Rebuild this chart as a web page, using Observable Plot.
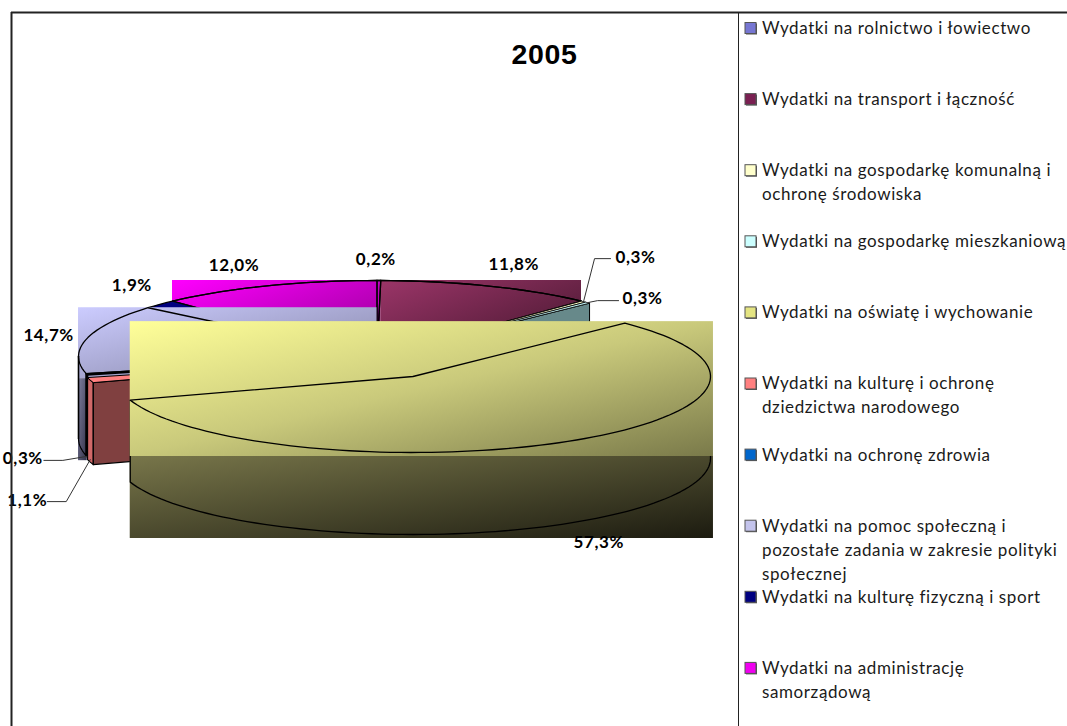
<!DOCTYPE html>
<html lang="pl">
<head>
<meta charset="utf-8">
<style>html,body{margin:0;padding:0;background:#fff;overflow:hidden}</style>
<script src="https://cdn.jsdelivr.net/npm/d3@7"></script>
<script src="https://cdn.jsdelivr.net/npm/@observablehq/plot@0.6"></script>
</head>
<body>
<div id="chart"></div>
<script>
const categories = [
  "Wydatki na rolnictwo i łowiectwo",
  "Wydatki na transport i łączność",
  "Wydatki na gospodarkę komunalną i\nochronę środowiska",
  "Wydatki na gospodarkę mieszkaniową",
  "Wydatki na oświatę i wychowanie",
  "Wydatki na kulturę i ochronę\ndziedzictwa narodowego",
  "Wydatki na ochronę zdrowia",
  "Wydatki na pomoc społeczną i\npozostałe zadania w zakresie polityki\nspołecznej",
  "Wydatki na kulturę fizyczną i sport",
  "Wydatki na administrację\nsamorządową"
];
const shares = [0.2, 11.8, 0.3, 0.3, 57.3, 1.1, 0.3, 14.7, 1.9, 12.0];
const shareLabels = ["0,2%", "11,8%", "0,3%", "0,3%", "57,3%", "1,1%", "0,3%", "14,7%", "1,9%", "12,0%"];
const legendColors = ["#7676d2", "#7a2052", "#ffffcc", "#ccffff", "#e4e482", "#ff8080", "#0066cc", "#c4c4ec", "#000080", "#f000f0"];
const title = "2005";

// layout (not data)
const W = 1067, H = 726;
const pie = {cx: 376.5, cy: 356, rx: 298.5, ry: 76, depth: 82};
const exploded = {...pie, cx: 412.5, cy: 376, rx: 297.5};
const sunk = {...pie, cy: pie.cy + 2.5};
const labelOffset = [[-3,-21],[25,-21],[52,-44],[55,-4],[31,101],[-63,123],[-64,84],[-38,-3],[-28,-19],[-33,-20]];
const leaderOffset = {2: {z: 0, elbow: [-41,1], end: [-25,1]}, 3: {z: 0, elbow: [-45,2], end: [-24,2]},
                      5: {z: 82, elbow: [39,1], end: [20,1]}, 6: {z: 82, elbow: [40,2], end: [21,2]}};
const legend = {top: 28, step: 71.1, swatchX: 745, swatchW: 11, textX: 761.5, lineH: 24};
const frame = {left: 11, top: 12, divider: 738};
const ink = "#000";

const gradients = {
  adminTop: ["#ff00ff", "#8c008c"],
  transportTop: ["#9b3568", "#3d1429"],
  stripTop: ["#d000d0", "#a000a0"],
  pomocTop: ["#ccccff", "#80809f"],
  pomocSide: ["#7f7f9f", "#33334a"],
  eduTop: ["#ffff99", "#c9c97b", "#7a7a4a"],
  eduSide: ["#78764a", "#1c1b10"]
};

// geometry from the shares
const total = d3.sum(shares);
let running = 0;
const slices = shares.map((v, i) => {
  const a0 = running / total * 360;
  running += v;
  return {i, a0, a1: running / total * 360, mid: (a0 + v / total * 180)};
});
const pt = (a, c = pie, z = 0) => {
  const r = a * Math.PI / 180;
  return {x: c.cx + c.rx * Math.sin(r), y: c.cy - c.ry * Math.cos(r) + z};
};
const arc = (a0, a1, c = pie, z = 0) => {
  const n = Math.max(2, Math.ceil(Math.abs(a1 - a0) / 2));
  return d3.range(n + 1).map(k => pt(a0 + (a1 - a0) * k / n, c, z));
};
const centre = (c = pie, z = 0) => ({x: c.cx, y: c.cy + z});
const wedge = (s, c = pie) => [centre(c), ...arc(s.a0, s.a1, c), centre(c)];
const radialWall = (a, c = pie) => [pt(a, c), centre(c), centre(c, c.depth), pt(a, c, c.depth), pt(a, c)];
const outerWall = (a0, a1, c = pie) => [...arc(a0, a1, c), ...arc(a1, a0, c, c.depth), pt(a0, c)];
const bbox = (s, c = pie, pad = {}) => {
  const pts = wedge(s, c);
  const {r = 0, t = 0, b = 4} = pad;
  return {x1: d3.min(pts, d => d.x), x2: d3.max(pts, d => d.x) + r, y1: d3.min(pts, d => d.y) - t, y2: d3.max(pts, d => d.y) + b};
};
const line = (pts, o = {}) => Plot.line(pts, {x: "x", y: "y", stroke: ink, strokeWidth: 1.3, curve: "linear", ...o});
const box = (b, name) => Plot.rect([b], {x1: "x1", x2: "x2", y1: "y1", y2: "y2", fill: `url(#${name})`});

const defs = () => {
  const d = d3.create("svg:defs");
  for (const [id, stops] of Object.entries(gradients)) {
    const g = d.append("linearGradient").attr("id", id).attr("x1", 0).attr("y1", 0).attr("x2", 1).attr("y2", 1);
    stops.forEach((c, k) => g.append("stop").attr("offset", k / (stops.length - 1)).attr("stop-color", c));
  }
  return d.node();
};

const [rol, tra, kom, mie, edu, kul, zdr, pom, spo, adm] = slices;

// back parts
const backMarks = [
  box(bbox(adm), "adminTop"),
  box(bbox(rol), "stripTop"),
  box({...bbox(tra), x1: pt(tra.a0).x}, "transportTop"),
  line(arc(adm.a0, adm.a1)),
  line(arc(rol.a0, rol.a1)),
  line(arc(tra.a0, tra.a1)),
  line(wedge(adm), {fill: "none"}),
  line(wedge(rol), {fill: "none"}),
  line(wedge(tra), {fill: "none"}),
  line(wedge(spo), {fill: "#000080"}),
  line(radialWall(mie.a1), {fill: "#67898a", strokeWidth: 1}),
  line(wedge(kom), {fill: "#ffffcc", strokeWidth: 0.8}),
  line(wedge(mie), {fill: "#ccffff", strokeWidth: 0.8})
];

// left parts
const pb = bbox(pom, pie, {b: 5});
const pomocFrontEnd = pt(pom.a0).x;
const leftMarks = [
  box(pb, "pomocTop"),
  box({x1: pb.x1, x2: pomocFrontEnd + 1, y1: pb.y2, y2: pb.y2 + pie.depth}, "pomocSide"),
  line([...arc(270, pom.a0, pie, pie.depth), pt(pom.a0)], {strokeWidth: 1.2}),
  line([pt(270), pt(270, pie, pie.depth)], {strokeWidth: 1.6}),
  line(wedge(pom), {fill: "none"}),
  line(outerWall(zdr.a0, zdr.a1), {fill: "#003366", strokeWidth: 1.6}),
  line(wedge(zdr), {fill: "#0066cc", strokeWidth: 1.6}),
  line(outerWall(kul.a0, kul.a1, sunk), {fill: "#d06868", strokeWidth: 1.2}),
  line(radialWall(kul.a0, sunk), {fill: "#804040", strokeWidth: 1.3}),
  line(wedge(kul, sunk), {fill: "#ff8080", strokeWidth: 1})
];

// exploded slice
const eb = bbox(edu, exploded, {r: 3, t: 1.5});
const eduMarks = [
  box({x1: eb.x1, x2: eb.x2, y1: eb.y2, y2: eb.y2 + pie.depth}, "eduSide"),
  line([pt(edu.a1, exploded), ...arc(edu.a1, 90, exploded, pie.depth), pt(90, exploded)]),
  box(eb, "eduTop"),
  line(wedge(edu, exploded), {fill: "none"})
];

// data labels and leaders
const labels = slices.map(s => {
  const rim = pt(s.mid, s.i === 4 ? exploded : pie);
  return {text: shareLabels[s.i], x: rim.x + labelOffset[s.i][0], y: rim.y + labelOffset[s.i][1], rim};
});
const leaders = Object.entries(leaderOffset).map(([i, o]) => {
  const l = labels[i];
  return [{x: l.rim.x, y: l.rim.y + o.z}, {x: l.x + o.elbow[0], y: l.y + o.elbow[1]}, {x: l.x + o.end[0], y: l.y + o.end[1]}];
});

// legend
const legendRows = categories.map((c, i) => ({c, y: legend.top + i * legend.step, color: legendColors[i]}));
const legendLines = legendRows.flatMap(r => r.c.split("\n").map((t, k) => ({t, y: r.y + k * legend.lineH})));

const plot = Plot.plot({
  width: W, height: H,
  margin: 0,
  x: {domain: [0, W], range: [0, W], axis: null},
  y: {domain: [0, H], range: [0, H], axis: null},
  style: {background: "#fff", letterSpacing: "0.6px"},
  marks: [
    defs,
    ...backMarks,
    ...leftMarks,
    ...eduMarks,
    ...leaders.map(l => line(l, {stroke: "#333", strokeWidth: 1})),
    Plot.text(labels, {x: "x", y: "y", text: "text", fontFamily: "Lato", fontWeight: 700, fontSize: 17, fill: "#000"}),
    Plot.text([title], {x: [544], y: [54], text: d => d, fontFamily: "Liberation Sans", fontWeight: 700, fontSize: 28.5, fill: "#000"}),
    Plot.ruleY([frame.top], {x1: frame.left, x2: W, stroke: "#222", strokeWidth: 2}),
    Plot.ruleX([frame.left], {y1: frame.top, y2: H, stroke: "#222", strokeWidth: 2}),
    Plot.ruleX([frame.divider], {y1: frame.top, y2: H, stroke: "#222", strokeWidth: 1}),
    Plot.rect(legendRows, {x1: legend.swatchX + 1, x2: legend.swatchX + legend.swatchW + 1, y1: d => d.y - 4.5, y2: d => d.y + 6.5, fill: "#555"}),
    Plot.rect(legendRows, {x1: legend.swatchX, x2: legend.swatchX + legend.swatchW, y1: d => d.y - 5.5, y2: d => d.y + 5.5, fill: "color", stroke: "#555", strokeWidth: 1}),
    Plot.text(legendLines, {x: legend.textX, y: "y", text: "t", textAnchor: "start", fontFamily: "Lato", fontSize: 17, fill: "#1a1a1a"})
  ]
});
plot.style.display = "block";
document.getElementById("chart").append(plot);
</script>
</body>
</html>
